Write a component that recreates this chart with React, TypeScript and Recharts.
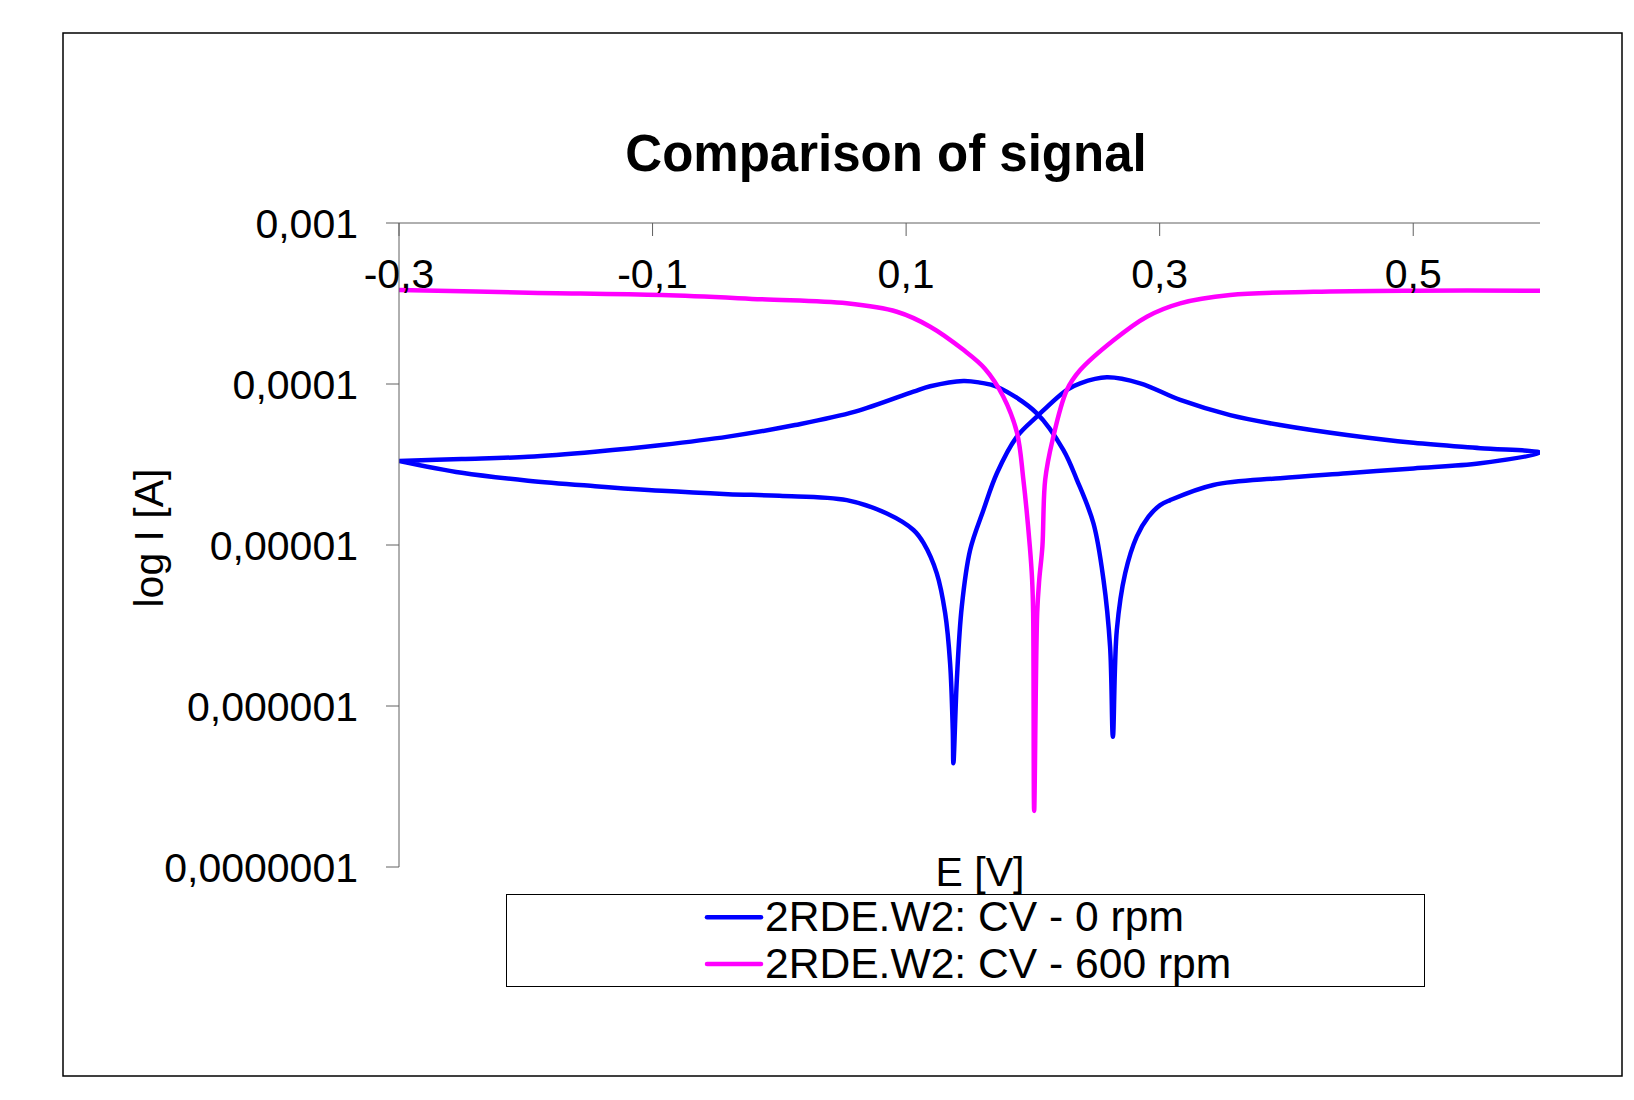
import React from 'react';
import { LineChart, Line, XAxis, YAxis, Legend, Label } from 'recharts';

// E [V] and I [A], 0 rpm loop (traced in scan order)
const blueE = [
  -0.3, -0.2505, -0.1982, -0.1454, -0.0927, -0.0404, 0.0124, 0.0598, 0.1058, 0.119,
  0.1452, 0.1584, 0.1716, 0.2031, 0.2241, 0.2347, 0.2478, 0.2557, 0.2609, 0.2631,
  0.2662, 0.2728, 0.282, 0.2912, 0.3004, 0.3083, 0.3424, 0.3951, 0.4477, 0.5002,
  0.5529, 0.6, 0.5529, 0.5002, 0.4477, 0.3951, 0.3556, 0.3162, 0.2846, 0.2583,
  0.2373, 0.2268, 0.2031, 0.1874, 0.1716, 0.161, 0.1505, 0.1439, 0.14, 0.1373,
  0.1368, 0.1347, 0.1308, 0.1242, 0.1137, 0.1058, 0.0848, 0.0532, 0.0, -0.0404,
  -0.0927, -0.1454, -0.1982, -0.2505, -0.3,
];
const blueI = [
  3.33e-5, 3.42e-5, 3.53e-5, 3.8e-5, 4.18e-5, 4.71e-5, 5.56e-5, 6.73e-5, 8.96e-5, 9.68e-5,
  1.045e-4, 1.02e-4, 9.62e-5, 6.58e-5, 3.89e-5, 2.54e-5, 1.36e-5, 6.07e-6, 2.33e-6, 6.44e-7,
  2.96e-6, 6.67e-6, 1.13e-5, 1.5e-5, 1.77e-5, 1.9e-5, 2.36e-5, 2.6e-5, 2.79e-5, 2.99e-5,
  3.22e-5, 3.74e-5, 3.99e-5, 4.31e-5, 4.82e-5, 5.56e-5, 6.41e-5, 7.96e-5, 1.01e-4, 1.1e-4,
  1.01e-4, 9.2e-5, 6.27e-5, 4.71e-5, 2.79e-5, 1.65e-5, 9.31e-6, 4.14e-6, 1.45e-6, 4.41e-7,
  7.1e-7, 1.84e-6, 3.77e-6, 6.67e-6, 1.03e-5, 1.24e-5, 1.57e-5, 1.9e-5, 2.02e-5, 2.07e-5,
  2.17e-5, 2.32e-5, 2.51e-5, 2.81e-5, 3.33e-5,
];

// 600 rpm
const pinkE = [
  -0.3, -0.198, -0.0927, -0.0138, 0.0532, 0.0927, 0.119, 0.1452, 0.162, 0.1765,
  0.1874, 0.1925, 0.1976, 0.1994, 0.2002, 0.201, 0.2034, 0.205, 0.2075, 0.2097,
  0.2155, 0.2268, 0.2373, 0.2636, 0.2899, 0.3162, 0.3556, 0.4213, 0.5002, 0.6,
];
const pinkI = [
  3.84e-4, 3.69e-4, 3.57e-4, 3.36e-4, 3.17e-4, 2.81e-4, 2.27e-4, 1.63e-4, 1.25e-4, 8.4e-5,
  5.0e-5, 2.54e-5, 9.77e-6, 6.07e-6, 3.79e-6, 2.23e-7, 3.79e-6, 6.07e-6, 9.77e-6, 2.54e-5,
  4.49e-5, 9.18e-5, 1.22e-4, 1.87e-4, 2.62e-4, 3.17e-4, 3.57e-4, 3.74e-4, 3.8e-4, 3.8e-4,
];

const xTicks = [-0.3, -0.1, 0.1, 0.3, 0.5];
const yTicks = [1e-7, 1e-6, 1e-5, 1e-4, 1e-3];
const seriesNames = ['2RDE.W2: CV - 0 rpm', '2RDE.W2: CV - 600 rpm'];
const seriesColors = ['#0000ff', '#ff00ff'];

const blueData = blueE.map((E, i) => ({ E, I: blueI[i] }));
const pinkData = pinkE.map((E, i) => ({ E, I: pinkI[i] }));

const FONT = '"Liberation Sans", Arial, sans-serif';
const AXIS = '#606060';

const fmtX = (v: number) => v.toFixed(1).replace('.', ',');
const fmtY = (v: number) => v.toFixed(Math.round(-Math.log10(v))).replace('.', ',');

// centripetal catmull-rom, works on loops (x not monotonic)
const smoothCurve = (ctx: any) => {
  let pts: number[][] = [];
  return {
    areaStart() {},
    areaEnd() {},
    lineStart() {
      pts = [];
    },
    point(x: number, y: number) {
      pts.push([+x, +y]);
    },
    lineEnd() {
      if (!pts.length) return;
      ctx.moveTo(pts[0][0], pts[0][1]);
      for (let i = 0; i < pts.length - 1; i++) {
        const p0 = pts[i - 1];
        const p1 = pts[i];
        const p2 = pts[i + 1];
        const p3 = pts[i + 2];
        const d = (a: number[], b: number[]) => Math.hypot(b[0] - a[0], b[1] - a[1]);
        const l12 = d(p1, p2);
        const l12a = Math.sqrt(l12);
        let c1 = p1;
        let c2 = p2;
        if (p0) {
          const l01 = d(p0, p1);
          const l01a = Math.sqrt(l01);
          if (l01a > 1e-6) {
            const a = 2 * l01 + 3 * l01a * l12a + l12;
            const n = 3 * l01a * (l01a + l12a);
            c1 = [0, 1].map((k) => (p1[k] * a - p0[k] * l12 + p2[k] * l01) / n);
          }
        }
        if (p3) {
          const l23 = d(p2, p3);
          const l23a = Math.sqrt(l23);
          if (l23a > 1e-6) {
            const b = 2 * l23 + 3 * l23a * l12a + l12;
            const m = 3 * l23a * (l23a + l12a);
            c2 = [0, 1].map((k) => (p2[k] * b + p1[k] * l23 - p3[k] * l12) / m);
          }
        }
        ctx.bezierCurveTo(c1[0], c1[1], c2[0], c2[1], p2[0], p2[1]);
      }
    },
  };
};

const renderLegend = () => (
  <div style={{ width: 919, height: 93, border: '1px solid #000', boxSizing: 'border-box', background: '#fff' }}>
    <svg width={917} height={91} style={{ display: 'block' }}>
      {seriesNames.map((name, i) => (
        <g key={name}>
          <line x1={200} x2={254} y1={22.3 + i * 46.7} y2={22.3 + i * 46.7} stroke={seriesColors[i]} strokeWidth={4.5} strokeLinecap="round" />
          <text x={258} y={36 + i * 47} fontSize={42.6} fontFamily={FONT} fill="#000">{name}</text>
        </g>
      ))}
    </svg>
  </div>
);

export default function App() {
  return (
    <div style={{ position: 'absolute', left: 0, top: 0, width: 1634, height: 1100, background: '#fff' }}>
      <LineChart width={1634} height={1100} margin={{ top: 223, right: 94, bottom: 233, left: 99 }}>
        <XAxis
          type="number"
          dataKey="E"
          orientation="top"
          mirror
          domain={[-0.3, 0.6]}
          ticks={xTicks}
          tickFormatter={fmtX}
          tickSize={13}
          tickMargin={23}
          stroke={AXIS}
          tick={{ fill: '#000', fontSize: 41, fontFamily: FONT }}
          allowDataOverflow
        />
        <YAxis
          type="number"
          scale="log"
          domain={[1e-7, 1e-3]}
          ticks={yTicks}
          tickFormatter={fmtY}
          width={300}
          tickSize={13}
          tickMargin={28}
          stroke={AXIS}
          tick={{ fill: '#000', fontSize: 41, fontFamily: FONT }}
          allowDataOverflow
        >
          <Label
            content={() => (
              <text x={163} y={538} transform="rotate(-90 163 538)" textAnchor="middle" fontSize={41} fontFamily={FONT} fill="#000">
                log I [A]
              </text>
            )}
          />
        </YAxis>
        <Legend
          layout="vertical"
          align="center"
          verticalAlign="middle"
          content={renderLegend}
          wrapperStyle={{ left: 506, top: 894, width: 919, height: 93 }}
        />
        <Line data={blueData} dataKey="I" name={seriesNames[0]} type={smoothCurve as any} stroke={seriesColors[0]} strokeWidth={4.5} dot={false} strokeLinejoin="round" isAnimationActive={false} />
        <Line data={pinkData} dataKey="I" name={seriesNames[1]} type={smoothCurve as any} stroke={seriesColors[1]} strokeWidth={4.5} dot={false} strokeLinejoin="round" isAnimationActive={false} />
      </LineChart>
      <svg width={1634} height={1100} style={{ position: 'absolute', left: 0, top: 0, pointerEvents: 'none' }}>
        <rect x={63} y={33} width={1559} height={1043} fill="none" stroke="#000" strokeWidth={1.5} />
        <text x={886} y={171} textAnchor="middle" fontSize={51} fontWeight="bold" fontFamily={FONT} fill="#000">
          Comparison of signal
        </text>
        <text x={980} y={886} textAnchor="middle" fontSize={41} fontFamily={FONT} fill="#000">
          E [V]
        </text>
      </svg>
    </div>
  );
}
